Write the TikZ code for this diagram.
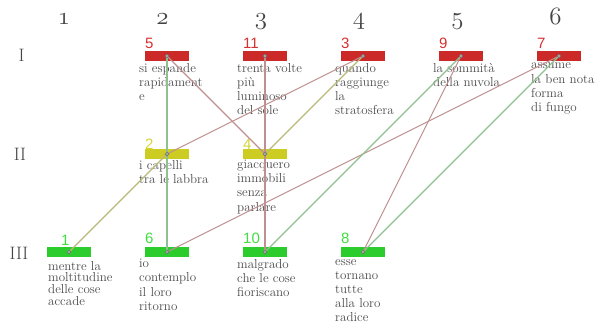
\documentclass[tikz,border=0pt]{standalone}
\usepackage{fontspec}
\newfontfamily\labelfont{Liberation Sans}
\newcommand\oldnum[1]{{\usefont{OML}{cmm}{m}{it}#1}}
\definecolor{barred}{HTML}{CC2929}
\definecolor{baryel}{HTML}{CCCC22}
\definecolor{bargrn}{HTML}{2CCC2C}
\definecolor{labred}{HTML}{D63030}
\definecolor{labyel}{HTML}{D4D43A}
\definecolor{labgrn}{HTML}{40DD40}
\definecolor{txtgray}{HTML}{4A4A4A}
\definecolor{hdrgray}{HTML}{444444}
\definecolor{lnbrown}{HTML}{C09090}
\definecolor{lngreen}{HTML}{8FC08F}
\definecolor{lnolive}{HTML}{B8B878}
\definecolor{dotfill}{HTML}{A8A8A8}
\definecolor{dotdraw}{HTML}{707070}
\tikzset{
  barbox/.style={rectangle, minimum width=44pt, minimum height=10pt, inner sep=0pt},
  numlabel/.style={anchor=base west, inner sep=0pt, font={\labelfont\fontsize{15}{15}\selectfont}},
  verse/.style={anchor=north west, inner sep=0pt, align=left, text=txtgray, font={\fontsize{13}{14.2}\selectfont}},
  versetight/.style={verse, font={\fontsize{13}{11.9}\selectfont}},
  colhead/.style={anchor=base, inner sep=0pt, text=hdrgray, font={\fontsize{23}{23}\selectfont}},
  rowhead/.style={anchor=base, inner sep=0pt, text=hdrgray, font={\fontsize{18}{18}\selectfont}},
  link/.style={line width=1.1pt},
  dot/.style={circle, inner sep=0pt, minimum size=3.8pt, fill=dotfill, draw=dotdraw, line width=0.5pt}
}
\begin{document}
\begin{tikzpicture}[x=1pt, y=-1pt]
\useasboundingbox (0,0) rectangle (595,327);
% column headers
\node[colhead] (h1) at (64,24.5) {\oldnum{1}};
\node[colhead] (h2) at (162.5,24.5) {\oldnum{2}};
\node[colhead] (h3) at (261,24.5) {\oldnum{3}};
\node[colhead] (h4) at (359,24.5) {\oldnum{4}};
\node[colhead] (h5) at (457.5,24.5) {\oldnum{5}};
\node[colhead] (h6) at (555.5,24.5) {\oldnum{6}};
% row headers
\node[rowhead] (r1) at (21.5,61.7) {I};
\node[rowhead] (r2) at (20,160.7) {II};
\node[rowhead] (r3) at (19,259) {III};
% number labels
\node[numlabel, text=labred] (l5) at (145,48.5) {5};
\node[numlabel, text=labred] (l11) at (243,48.5) {11};
\node[numlabel, text=labred] (l3) at (341,48.5) {3};
\node[numlabel, text=labred] (l9) at (439,48.5) {9};
\node[numlabel, text=labred] (l7) at (537,48.5) {7};
\node[numlabel, text=labyel] (l2) at (145,149.5) {2};
\node[numlabel, text=labyel] (l4) at (243,149.5) {4};
\node[numlabel, text=labgrn] (l1) at (61,245) {1};
\node[numlabel, text=labgrn] (l6) at (145,243.5) {6};
\node[numlabel, text=labgrn] (l10) at (243,243.5) {10};
\node[numlabel, text=labgrn] (l8) at (341,243.5) {8};
% bars
\node[barbox, fill=barred] (b5) at (167,56) {};
\node[barbox, fill=barred] (b11) at (265,56) {};
\node[barbox, fill=barred] (b3) at (363,56) {};
\node[barbox, fill=barred] (b9) at (461,56) {};
\node[barbox, fill=barred] (b7) at (559,56) {};
\node[barbox, fill=baryel] (b2) at (167,154) {};
\node[barbox, fill=baryel] (b4) at (265,154) {};
\node[barbox, fill=bargrn] (b1) at (69,252) {};
\node[barbox, fill=bargrn] (b6) at (167,252) {};
\node[barbox, fill=bargrn] (b10) at (265,252) {};
\node[barbox, fill=bargrn] (b8) at (363,252) {};
% verses
\node[verse] (t5) at (139,62.8) {si espande\\rapidament\\e};
\node[verse] (t11) at (237,62.8) {trenta volte\\più\\luminoso\\del sole};
\node[verse] (t3) at (335,62.8) {quando\\raggiunge\\la\\stratosfera};
\node[verse] (t9) at (433,62.8) {la sommità\\della nuvola};
\node[verse] (t7) at (531,62.8) {assume\\la ben nota\\forma\\di fungo};
\node[verse] (t2) at (139,159.8) {i capelli\\tra le labbra};
\node[verse] (t4) at (237,159.8) {giacquero\\immobili\\senza\\parlare};
\node[versetight] (t1) at (48,260.8) {mentre la\\moltitudine\\delle cose\\accade};
\node[verse] (t6) at (139,259) {io\\contemplo\\il loro\\ritorno};
\node[verse] (t10) at (237,259) {malgrado\\che le cose\\fioriscano};
\node[verse] (t8) at (335,259) {esse\\tornano\\tutte\\alla loro\\radice};
% links in order of the verses
\draw[link, lnolive] (b1.center) -- (b2.center);
\draw[link, lnbrown] (b2.center) -- (b3.center);
\draw[link, lnolive] (b3.center) -- (b4.center);
\draw[link, lnbrown] (b4.center) -- (b5.center);
\draw[link, lngreen] (b5.center) -- (b6.center);
\draw[link, lnbrown] (b6.center) -- (b7.center);
\draw[link, lngreen] (b7.center) -- (b8.center);
\draw[link, lnbrown] (b8.center) -- (b9.center);
\draw[link, lngreen] (b9.center) -- (b10.center);
\draw[link, lnbrown] (b10.center) -- (b11.center);
% dots
\foreach \k in {1,...,11} { \node[dot] (d\k) at (b\k.center) {}; }
\end{tikzpicture}
\end{document}
